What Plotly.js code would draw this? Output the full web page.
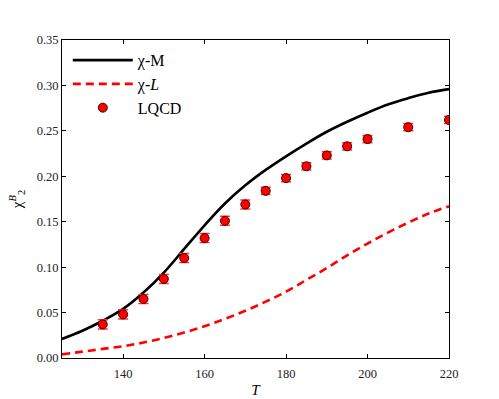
<!DOCTYPE html>
<html>
<head>
<meta charset="utf-8">
<script src="https://cdn.plot.ly/plotly-3.0.1.min.js"></script>
<style>html,body{margin:0;padding:0;background:#fff;}#chart{width:499px;height:399px;}</style>
</head>
<body>
<div id="chart"></div>
<script>
// Model curves (temperature T in MeV)
const curveT = [125,130,135,140,145,150,155,160,165,170,175,180,185,190,195,200,205,210,215,220];
const chiM   = [0.021,0.030,0.041,0.054,0.072,0.094,0.120,0.146,0.170,0.190,0.207,0.222,0.236,0.249,0.260,0.270,0.279,0.286,0.292,0.296];
const chiL   = [0.004,0.007,0.010,0.013,0.017,0.022,0.028,0.035,0.043,0.052,0.062,0.073,0.086,0.099,0.113,0.126,0.138,0.149,0.159,0.167];
// Lattice QCD data
const lqcdT   = [135,140,145,150,155,160,165,170,175,180,185,190,195,200,210,220];
const lqcdVal = [0.037,0.048,0.065,0.087,0.110,0.132,0.151,0.169,0.184,0.198,0.211,0.223,0.233,0.241,0.254,0.262];
const lqcdErr = [0.005,0.005,0.005,0.005,0.005,0.005,0.005,0.005,0.004,0.004,0.004,0.004,0.004,0.004,0.004,0.004];
const xTicks = [140,160,180,200,220];
const yTicks = [0,0.05,0.10,0.15,0.20,0.25,0.30,0.35];

const serif = "'Liberation Serif','DejaVu Serif',serif";

const traces = [
  {x: curveT, y: chiM, mode: 'lines', name: 'χ-M', line: {color: '#000', width: 2.6, shape: 'spline', smoothing: 1}},
  {x: curveT, y: chiL, mode: 'lines', name: 'χ-<i>L</i>', line: {color: '#ff0000', width: 2.6, dash: '8px,5px', shape: 'spline', smoothing: 1}},
  {x: lqcdT, y: lqcdVal, mode: 'markers', name: 'LQCD',
   marker: {color: '#ff0000', size: 9, line: {color: '#3a0000', width: 1}},
   error_y: {type: 'data', array: lqcdErr, visible: true, color: '#ff3030', thickness: 1.5, width: 5}}
];

const axisCommon = {
  showgrid: false, zeroline: false, showline: true, linecolor: '#000', linewidth: 1,
  mirror: 'allticks', ticks: 'inside', ticklen: 4, tickcolor: '#000', tickwidth: 1,
  tickfont: {family: serif, size: 12.5, color: '#222'}
};

const layout = {
  width: 499, height: 399,
  margin: {l: 62, r: 50, t: 40, b: 41},
  paper_bgcolor: '#fff', plot_bgcolor: '#fff',
  showlegend: true,
  legend: {x: 0.015, y: 0.99, xanchor: 'left', yanchor: 'top', bgcolor: 'rgba(0,0,0,0)',
           itemwidth: 60,
           font: {family: serif, size: 16, color: '#000'}, tracegroupgap: 0},
  xaxis: Object.assign({}, axisCommon, {
    range: [125, 220], tickvals: xTicks, ticktext: xTicks.map(String), ticklabelstandoff: 4,
    title: {text: '<i>T</i>', font: {family: serif, size: 15, color: '#000'}, standoff: 4}
  }),
  yaxis: Object.assign({}, axisCommon, {
    range: [0, 0.35], tickvals: yTicks, ticktext: yTicks.map(v => v.toFixed(2)),
    title: {text: 'χ<sup><i>B</i></sup><sub>2</sub>', font: {family: serif, size: 15, color: '#000'}, standoff: 10}
  })
};

Plotly.newPlot('chart', traces, layout, {displayModeBar: false, staticPlot: true});
</script>
</body>
</html>
